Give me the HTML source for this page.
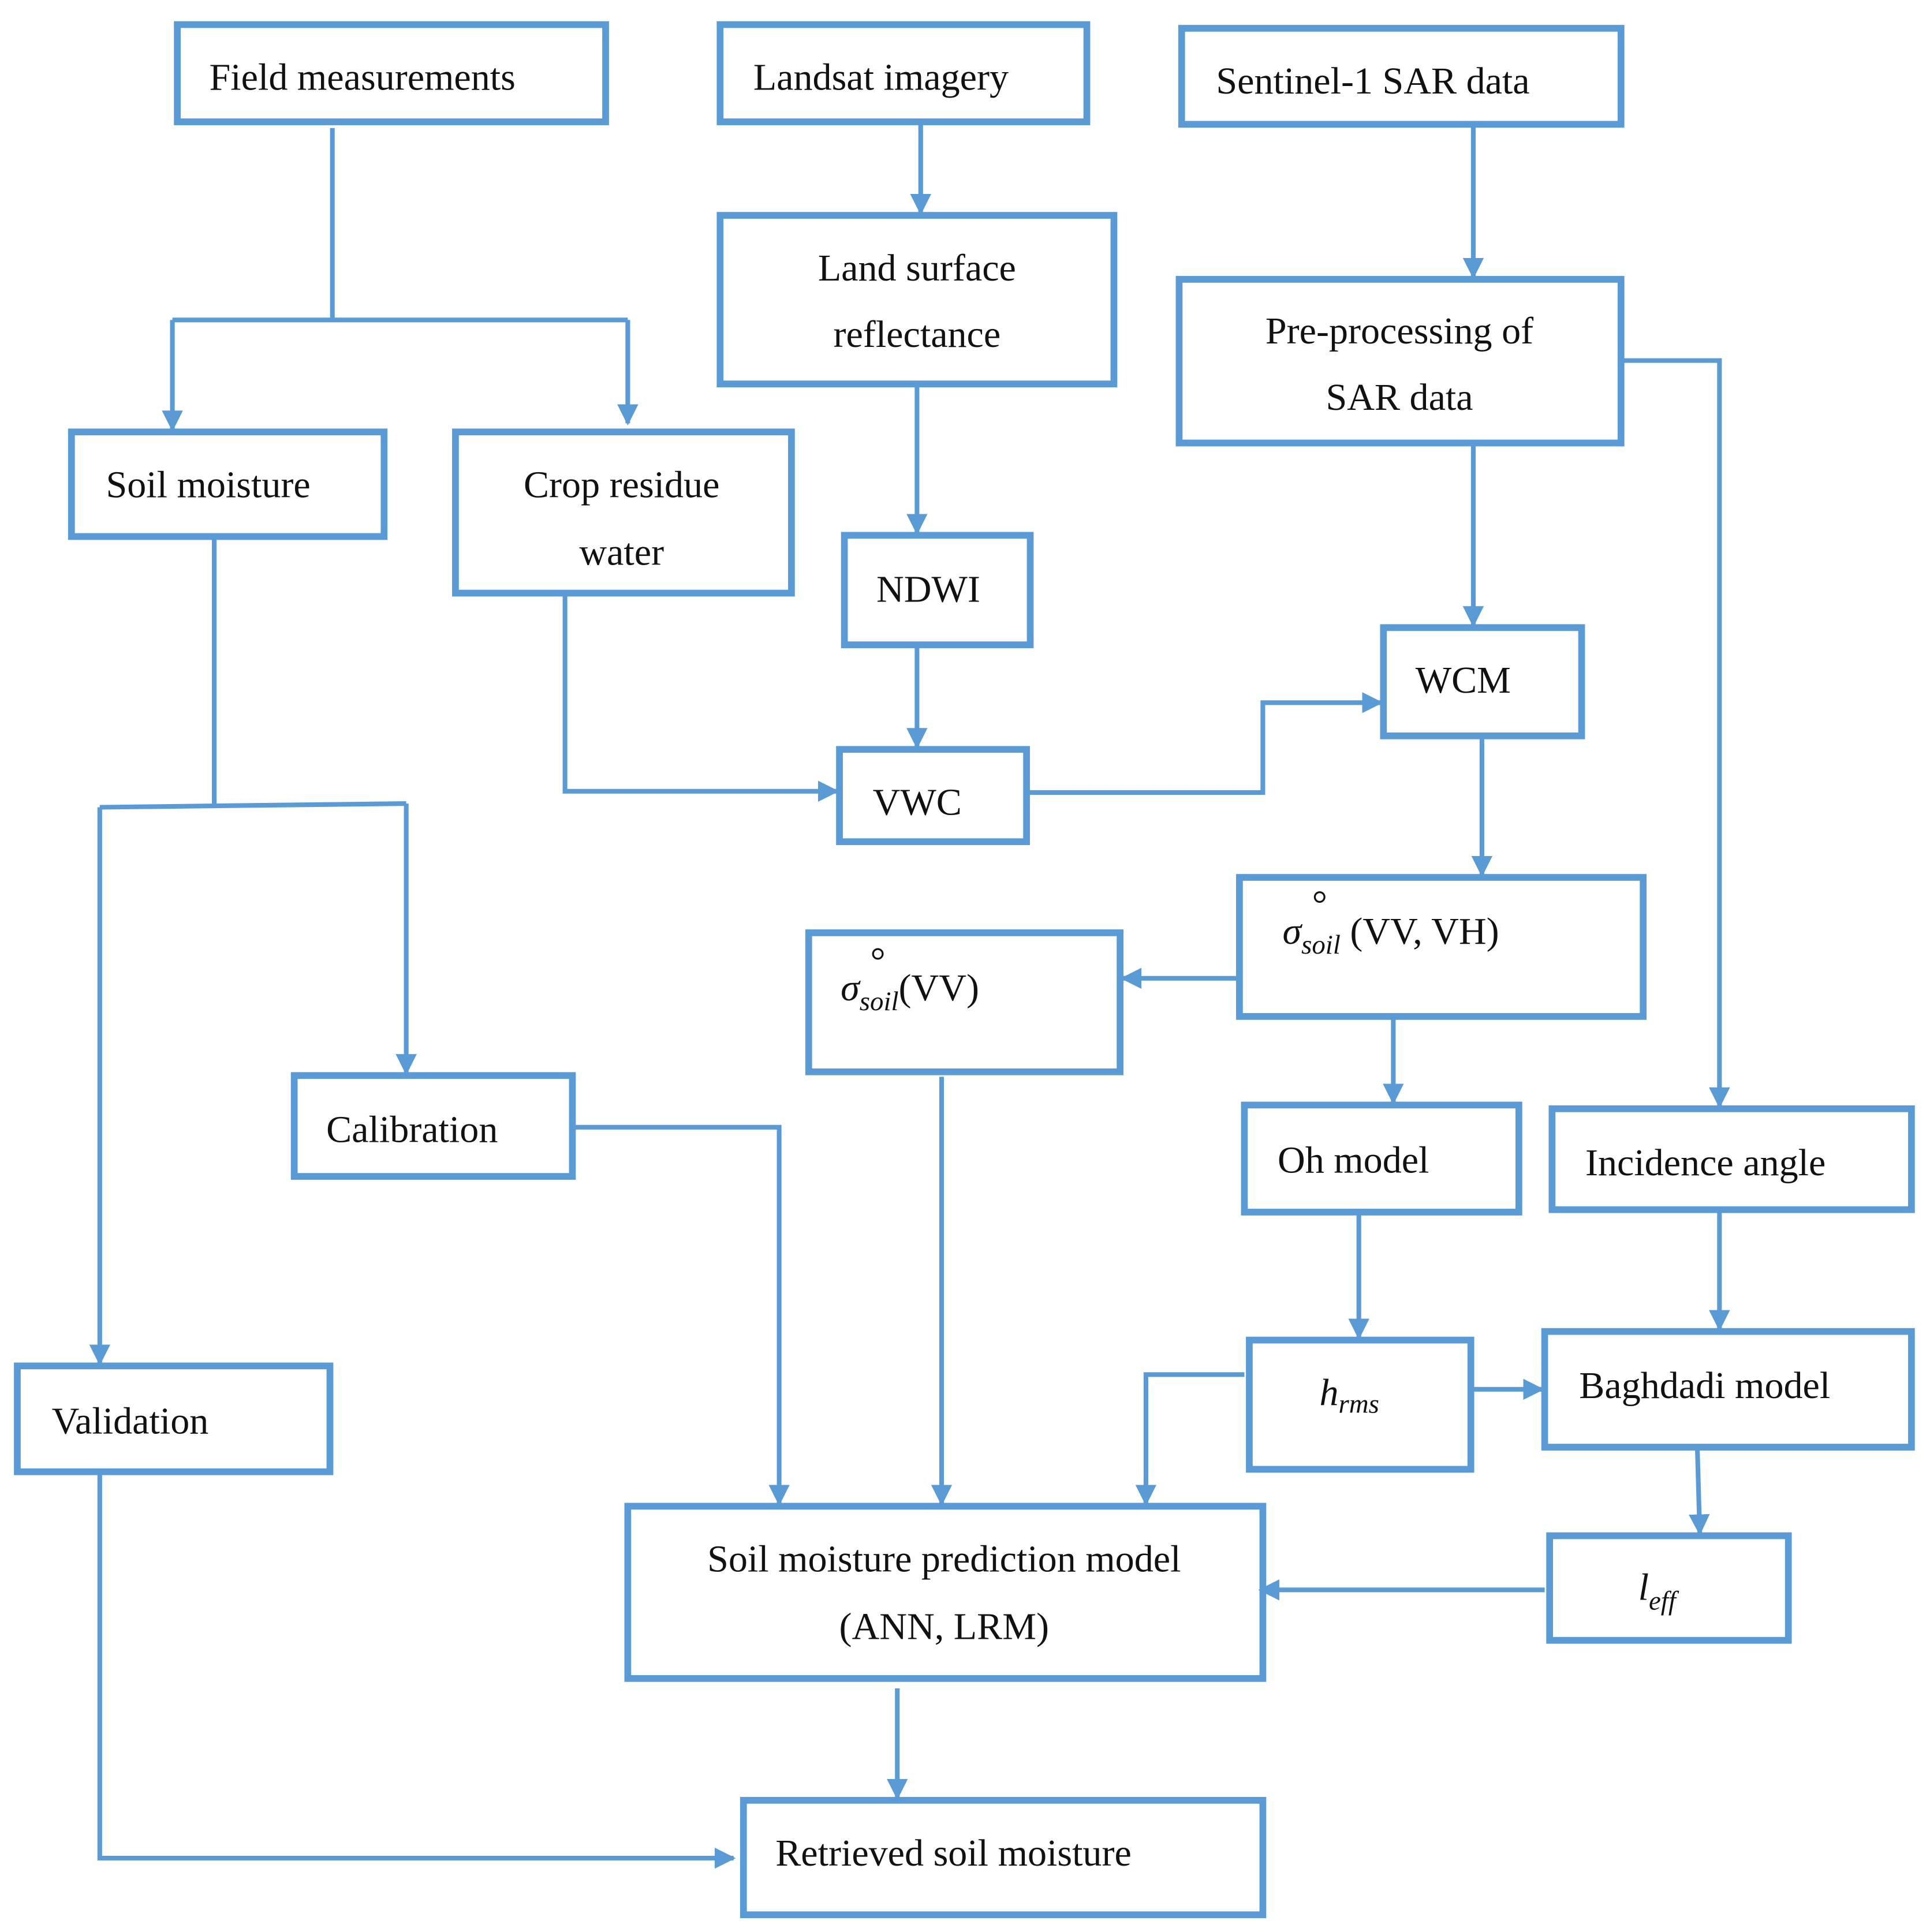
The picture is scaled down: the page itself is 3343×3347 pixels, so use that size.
<!DOCTYPE html>
<html><head><meta charset="utf-8"><style>
html,body{margin:0;padding:0;background:#fff}
svg{display:block}
text{font-family:"Liberation Serif",serif;font-size:31px;fill:#111}
.i{font-style:italic}
</style></head><body>
<svg width="3343" height="3347" viewBox="0 0 1568 1570" xmlns="http://www.w3.org/2000/svg">
<defs><marker id="a" viewBox="0 0 10 10" refX="9" refY="5" markerWidth="4.5" markerHeight="4.5" markerUnits="strokeWidth" orient="auto"><path d="M0,0L10,5L0,10z" fill="#5B9BD5"/></marker></defs>
<g fill="none" stroke="#5B9BD5" stroke-width="5.5">
<rect x="144" y="20" width="348" height="79"/>
<rect x="585" y="20" width="298" height="79"/>
<rect x="960" y="23" width="357" height="78"/>
<rect x="585" y="175" width="320" height="137"/>
<rect x="958" y="227" width="359" height="133"/>
<rect x="58" y="351" width="254" height="85"/>
<rect x="370" y="351" width="273" height="131"/>
<rect x="686" y="435" width="151" height="89"/>
<rect x="1124" y="510" width="161" height="88"/>
<rect x="682" y="609" width="152" height="75"/>
<rect x="1007" y="713" width="328" height="113"/>
<rect x="657" y="758" width="253" height="113"/>
<rect x="239" y="874" width="226" height="82"/>
<rect x="1011" y="898" width="223" height="87"/>
<rect x="1261" y="901" width="292" height="82"/>
<rect x="14" y="1110" width="254" height="86"/>
<rect x="1015" y="1089" width="180" height="105"/>
<rect x="1255" y="1082" width="298" height="94"/>
<rect x="510" y="1224" width="516" height="140"/>
<rect x="1259" y="1248" width="194" height="85"/>
<rect x="604" y="1463" width="422" height="93"/>
</g>
<g fill="none" stroke="#5B9BD5" stroke-width="3.8">
<path d="M270,104V260M140,260H510"/>
<path d="M140,260V349" marker-end="url(#a)"/>
<path d="M510,260V344" marker-end="url(#a)"/>
<path d="M748,99V173" marker-end="url(#a)"/>
<path d="M1197,101V225" marker-end="url(#a)"/>
<path d="M745,312V433" marker-end="url(#a)"/>
<path d="M745,524V607" marker-end="url(#a)"/>
<path d="M1197,360V508" marker-end="url(#a)"/>
<path d="M1317,293H1397V899" marker-end="url(#a)"/>
<path d="M459,482V643H680" marker-end="url(#a)"/>
<path d="M834,644H1026V571H1122" marker-end="url(#a)"/>
<path d="M1204,598V711" marker-end="url(#a)"/>
<path d="M1007,795H912" marker-end="url(#a)"/>
<path d="M1132,826V896" marker-end="url(#a)"/>
<path d="M174,436V655M81,656L330,653"/>
<path d="M81,656V1108" marker-end="url(#a)"/>
<path d="M330,653V872" marker-end="url(#a)"/>
<path d="M465,916H633V1222" marker-end="url(#a)"/>
<path d="M765,875V1222" marker-end="url(#a)"/>
<path d="M1104,985V1087" marker-end="url(#a)"/>
<path d="M1397,983V1080" marker-end="url(#a)"/>
<path d="M1011,1117H931V1222" marker-end="url(#a)"/>
<path d="M1195,1129H1253" marker-end="url(#a)"/>
<path d="M1379,1176L1381,1246" marker-end="url(#a)"/>
<path d="M1255,1292H1024" marker-end="url(#a)"/>
<path d="M729,1372V1461" marker-end="url(#a)"/>
<path d="M81,1196V1510H596" marker-end="url(#a)"/>
</g>
<text x="170" y="73">Field measurements</text>
<text x="612" y="73">Landsat imagery</text>
<text x="988" y="76">Sentinel-1 SAR data</text>
<text x="745" y="228" text-anchor="middle">Land surface</text>
<text x="745" y="282" text-anchor="middle">reflectance</text>
<text x="1137" y="279" text-anchor="middle">Pre-processing of</text>
<text x="1137" y="333" text-anchor="middle">SAR data</text>
<text x="86" y="404">Soil moisture</text>
<text x="505" y="404" text-anchor="middle">Crop residue</text>
<text x="505" y="459" text-anchor="middle">water</text>
<text x="712" y="489">NDWI</text>
<text x="1150" y="563">WCM</text>
<text x="709" y="662">VWC</text>
<text x="1042" y="767"><tspan class="i">σ</tspan><tspan class="i" font-size="22" dy="8">soil</tspan><tspan dy="-8"> (VV, VH)</tspan></text>
<text x="1066" y="745" font-size="14">°</text>
<text x="683" y="813"><tspan class="i">σ</tspan><tspan class="i" font-size="22" dy="8">soil</tspan><tspan dy="-8">(VV)</tspan></text>
<text x="707" y="791" font-size="14">°</text>
<text x="265" y="928">Calibration</text>
<text x="1038" y="953">Oh model</text>
<text x="1288" y="955">Incidence angle</text>
<text x="42" y="1165">Validation</text>
<text x="1072" y="1142"><tspan class="i">h</tspan><tspan class="i" font-size="22" dy="6">rms</tspan></text>
<text x="1283" y="1136">Baghdadi model</text>
<text x="767" y="1277" text-anchor="middle">Soil moisture prediction model</text>
<text x="767" y="1332" text-anchor="middle">(ANN, LRM)</text>
<text x="1331" y="1300"><tspan class="i">l</tspan><tspan class="i" font-size="22" dy="8">eff</tspan></text>
<text x="630" y="1516">Retrieved soil moisture</text>
</svg>
</body></html>
